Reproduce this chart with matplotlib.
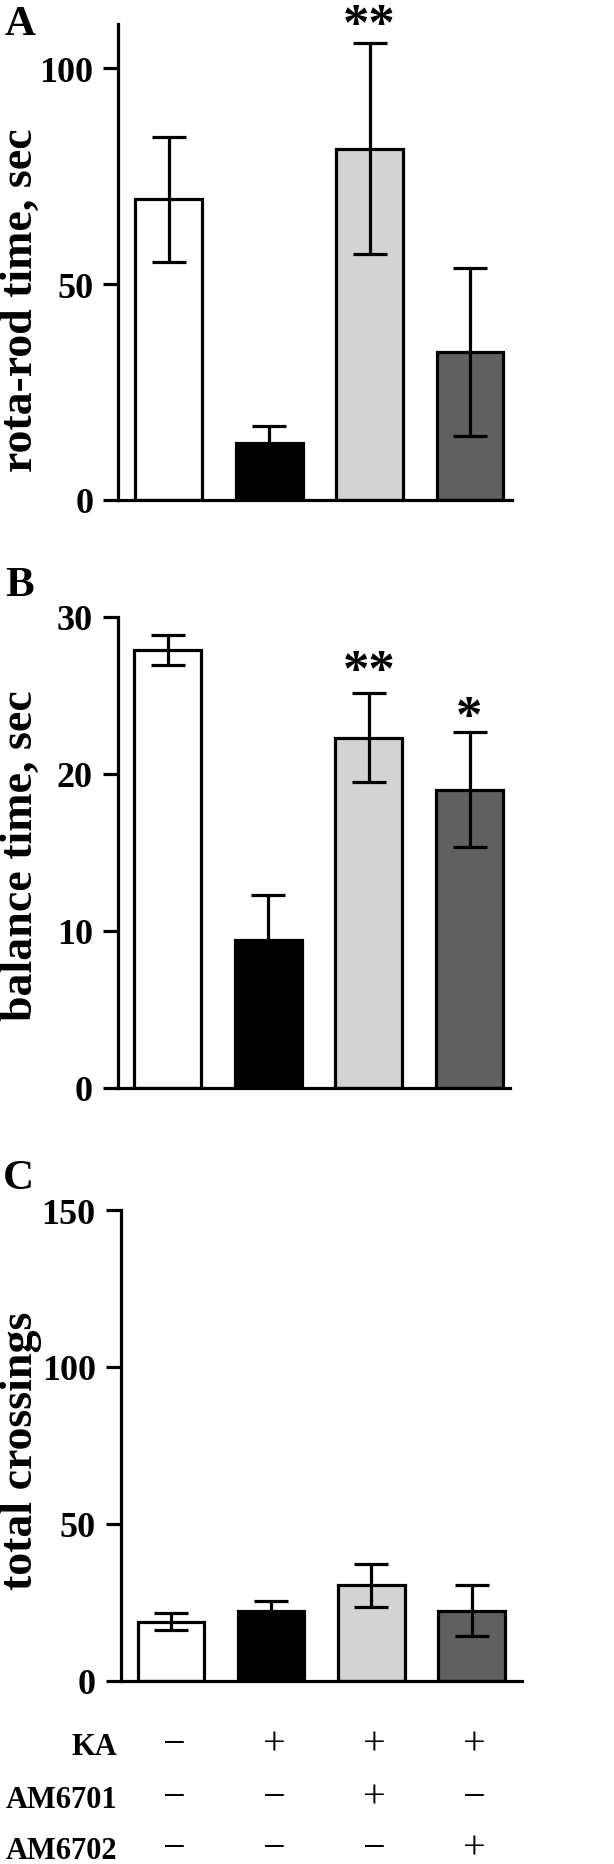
import matplotlib
matplotlib.use("Agg")
import matplotlib.pyplot as plt
import matplotlib.transforms as mtransforms

plt.rcParams['font.family'] = ['Liberation Serif', 'DejaVu Serif']
plt.rcParams['font.weight'] = 'bold'

# ---------------- data ----------------
groups = ["1", "2", "3", "4"]
bar_colors = ["#ffffff", "#000000", "#d3d3d3", "#606060"]

rotarod_mean = [69.7, 13.1, 81.4, 34.3]
rotarod_err = [14.5, 3.9, 24.4, 19.5]

balance_mean = [27.9, 9.4, 22.3, 19.0]
balance_err = [0.95, 2.9, 2.85, 3.65]

crossings_mean = [18.8, 22.3, 30.4, 22.3]
crossings_err = [2.8, 3.0, 6.8, 8.2]

ylabels = ["rota-rod time, sec", "balance time, sec", "total crossings"]
panel_letters = ["A", "B", "C"]
yticks_list = [[0, 50, 100], [0, 10, 20, 30], [0, 50, 100, 150]]
ylims = [(0, 110.3), (0, 30), (0, 150)]

# significance marks: (group index, text, y in data units of glyph center)
sig_A = [(2, "**", 112.6)]
sig_B = [(2, "**", 27.2), (3, "*", 24.3)]
sig_C = []

row_labels = ["KA", "AM6701", "AM6702"]
row_signs = [["−", "+", "+", "+"],
             ["−", "−", "+", "−"],
             ["−", "−", "−", "+"]]

# ---------------- figure ----------------
W, H = 614, 1865
fig = plt.figure(figsize=(W / 100, H / 100), dpi=100)

def fx(px):
    return px / W

def fy(py):
    return 1 - py / H

# axes rectangles in pixels: left, right, top, bottom
rects = [
    (118.3, 512, 25, 500.7),
    (118.0, 510, 617.7, 1089),
    (120.7, 522, 1211, 1681.7),
]
bar_centers_px = [
    [168.7, 269.7, 370, 470],
    [167.5, 268, 368.5, 469.5],
    [171, 271.5, 371, 471.5],
]
means = [rotarod_mean, balance_mean, crossings_mean]
errs = [rotarod_err, balance_err, crossings_err]
sigs = [sig_A, sig_B, sig_C]
ylabel_y_px = [300, 856, 1451]
letter_pos_px = [(20, 25), (20, 586), (18, 1179)]

LW = 2.3
STAR_FS = 38
axes = []
for i in range(3):
    l, r, t, b = rects[i]
    ax = fig.add_axes([fx(l), fy(b), (r - l) / W, (b - t) / H])
    axes.append(ax)
    xs = list(range(len(groups)))
    spacing = (bar_centers_px[i][-1] - bar_centers_px[i][0]) / 3
    x0 = -(bar_centers_px[i][0] - l) / spacing
    x1 = 3 + (r - bar_centers_px[i][-1]) / spacing
    ax.bar(xs, means[i], width=0.665, color=bar_colors, edgecolor="black",
           linewidth=LW, zorder=2)
    ax.errorbar(xs, means[i], yerr=errs[i], fmt="none", ecolor="black",
                elinewidth=LW, capsize=12.5, capthick=LW, zorder=3)
    ax.set_xlim(x0, x1)
    ax.set_ylim(*ylims[i])
    ax.set_yticks(yticks_list[i])
    ax.set_xticks([])
    for s in ["top", "right"]:
        ax.spines[s].set_visible(False)
    ax.spines["left"].set_linewidth(LW)
    ax.spines["bottom"].set_linewidth(LW)
    ax.tick_params(axis="y", direction="out", length=11, width=LW,
                   labelsize=26, pad=7)
    for lab in ax.get_yticklabels():
        lab.set_fontweight("bold")
    # significance stars
    for (g, txt, yv) in sigs[i]:
        ax.annotate(txt, xy=(g, yv), xytext=(0, -0.47 * STAR_FS),
                    textcoords="offset points", ha="center", va="baseline",
                    fontsize=STAR_FS, fontweight="bold", annotation_clip=False)
    # y label
    fig.text(fx(21), fy(ylabel_y_px[i]), ylabels[i], rotation=90,
             ha="center", va="center", fontsize=33, fontweight="bold")
    # panel letter
    lx, ly = letter_pos_px[i]
    fig.text(fx(lx), fy(ly), panel_letters[i], ha="center", va="center",
             fontsize=31, fontweight="bold")

# ---------------- treatment table ----------------
axc = axes[2]
trans = mtransforms.blended_transform_factory(axc.transData, fig.transFigure)
row_center_px = [1745, 1798, 1849]
for r_i, lab in enumerate(row_labels):
    yc = row_center_px[r_i]
    fig.text(fx(117), fy(yc + 10), lab, ha="right", va="baseline",
             fontsize=22, fontweight="bold")
    for g, sgn in enumerate(row_signs[r_i]):
        axc.text(g + 0.03, fy(yc + 10), sgn, transform=trans, ha="center",
                 va="baseline", fontsize=29, fontweight="normal",
                 clip_on=False)

fig.savefig("out.png", dpi=100)
